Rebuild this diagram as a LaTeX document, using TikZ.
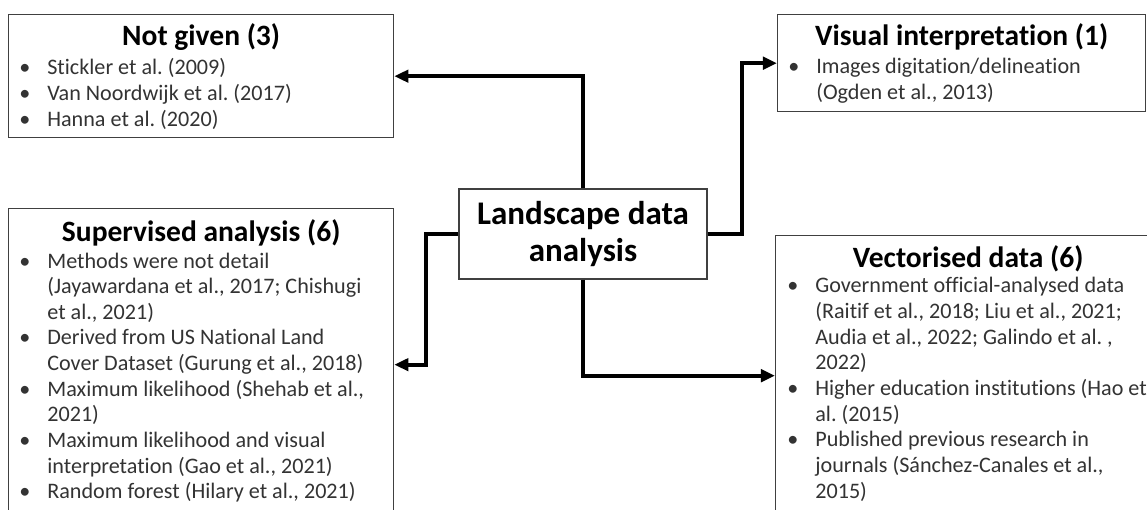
\documentclass[tikz,border=0pt]{standalone}
\usepackage{fontspec}
\setmainfont{Carlito}[Ligatures=NoCommon]
\usetikzlibrary{positioning,calc,arrows.meta}
\frenchspacing

\newcommand{\bl}{\makebox[0.56cm][l]{\textbullet}}
\newcommand{\ind}{\hspace*{0.56cm}}

\tikzset{
  catbox/.style={draw=black!75, line width=0.8pt, fill=white, anchor=north west, inner sep=0pt},
  cattitle/.style={anchor=base, inner sep=0pt, font=\fontsize{16.8}{19}\selectfont\bfseries},
  catlist/.style={anchor=base west, inner sep=0pt, text=black!80, font=\fontsize{12.6}{14.6}\selectfont},
  link/.style={line width=2.3pt, -{Triangle[length=8pt,width=7pt]}},
}

\begin{document}
\begin{tikzpicture}[x=0.02cm, y=-0.02cm]
    \useasboundingbox (0,0) rectangle (1147,510);
    \clip (0,0) rectangle (1147,510);

    % Not given
    \node[catbox, minimum width=7.7cm, minimum height=2.46cm] (notgiven) at (8,14) {};
    \node[cattitle] (notgiven-t) at ($(notgiven.north)+(0,32)$) {Not given (3)};
    \node[catlist] (notgiven-l) at ($(notgiven.north west)+(11,61)$) {%
      \begin{tabular}[t]{@{}l@{}}
      \bl Stickler et al. (2009)\\
      \bl Van Noordwijk et al. (2017)\\
      \bl Hanna et al. (2020)
      \end{tabular}};

    % Visual interpretation
    \node[catbox, minimum width=7.36cm, minimum height=1.94cm] (visual) at (777,14) {};
    \node[cattitle] (visual-t) at ($(visual.north)+(0,32)$) {Visual interpretation (1)};
    \node[catlist] (visual-l) at ($(visual.north west)+(11,60)$) {%
      \begin{tabular}[t]{@{}l@{}}
      \bl Images digitation/delineation\\
      \ind (Ogden et al., 2013)
      \end{tabular}};

    % Supervised analysis
    \node[catbox, minimum width=7.7cm, minimum height=6.24cm] (supervised) at (8,208) {};
    \node[cattitle] (supervised-t) at ($(supervised.north)+(0,33)$) {Supervised analysis (6)};
    \node[catlist] (supervised-l) at ($(supervised.north west)+(11,60)$) {%
      \begin{tabular}[t]{@{}l@{}}
      \bl Methods were not detail\\
      \ind (Jayawardana et al., 2017; Chishugi\\
      \ind et al., 2021)\\
      \bl Derived from US National Land\\
      \ind Cover Dataset (Gurung et al., 2018)\\
      \bl Maximum likelihood (Shehab et al.,\\
      \ind 2021)\\
      \bl Maximum likelihood and visual\\
      \ind interpretation (Gao et al., 2021)\\
      \bl Random forest (Hilary et al., 2021)
      \end{tabular}};

    % Vectorised data
    \node[catbox, minimum width=7.7cm, minimum height=5.6cm] (vectorised) at (775,235) {};
    \node[cattitle] (vectorised-t) at ($(vectorised.north)+(0,32)$) {Vectorised data (6)};
    \node[catlist] (vectorised-l) at ($(vectorised.north west)+(12,58)$) {%
      \begin{tabular}[t]{@{}l@{}}
      \bl Government official-analysed data\\
      \ind (Raitif et al., 2018; Liu et al., 2021;\\
      \ind Audia et al., 2022; Galindo et al. ,\\
      \ind 2022)\\
      \bl Higher education institutions (Hao et\\
      \ind al. (2015)\\
      \bl Published previous research in\\
      \ind journals (Sánchez-Canales et al.,\\
      \ind 2015)
      \end{tabular}};

    % Centre
    \node[draw=black!75, line width=0.8pt, fill=white, minimum width=4.96cm, minimum height=1.8cm,
          align=center, font=\fontsize{18.8}{20.5}\selectfont\bfseries] (landscape) at (583,234)
          {Landscape data\\analysis};

    % Links
    \draw[link] (landscape.north) |- (notgiven.east);
    \draw[link] (landscape.east) -- ++(34,0) |- (visual.west);
    \draw[link] (landscape.west) -- ++(-32,0) |- (supervised.east);
    \draw[link] (landscape.south) |- (vectorised.west);
\end{tikzpicture}
\end{document}
